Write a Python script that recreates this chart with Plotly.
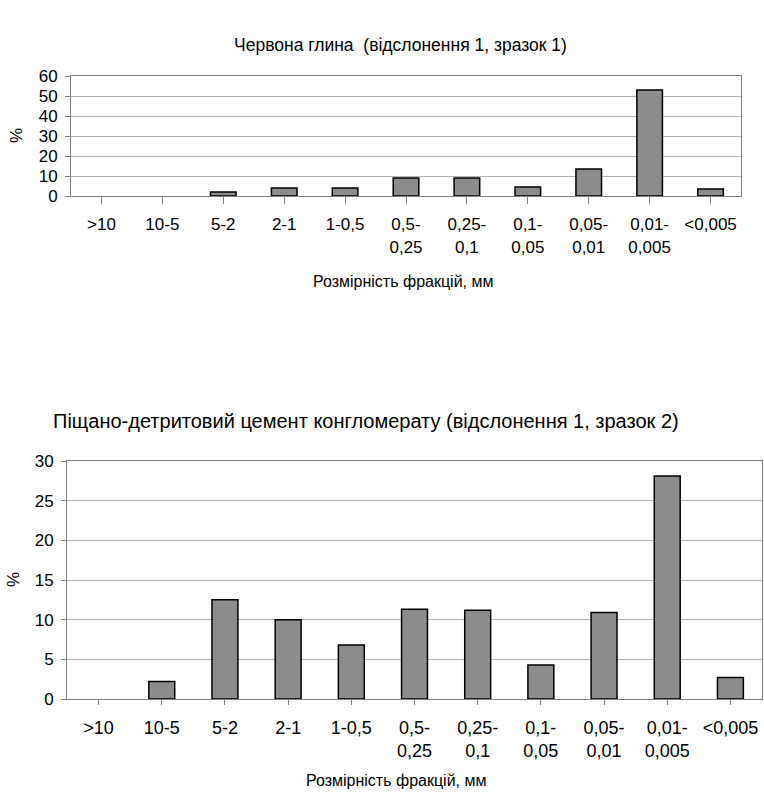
import plotly.graph_objects as go

W, H = 764, 793

categories = [">10", "10-5", "5-2", "2-1", "1-0,5", "0,5-<br>0,25", "0,25-<br>0,1",
              "0,1-<br>0,05", "0,05-<br>0,01", "0,01-<br>0,005", "<0,005"]
sample1 = [0, 0, 2, 4, 4, 9, 9, 4.5, 13.5, 53, 3.5]
sample2 = [0, 2.2, 12.5, 10, 6.8, 11.3, 11.2, 4.3, 10.9, 28.1, 2.7]

title1 = "Червона глина  (відслонення 1, зразок 1)"
title2 = "Піщано-детритовий цемент конгломерату (відслонення 1, зразок 2)"
xtitle = "Розмірність фракцій, мм"
ytitle = "%"

FONT = "Liberation Sans, Arial, sans-serif"
BAR = "#8c8c8c"
AX = "#808080"
GRID = "#b4b4b4"

def px(x):
    return x / W

def py(y):
    return 1 - y / H

idx = list(range(len(categories)))

def outline(vals):
    return [1.5 if v > 0 else 0 for v in vals]

fig = go.Figure()
fig.add_trace(go.Bar(x=idx, y=sample1, width=0.42,
                     marker=dict(color=BAR, line=dict(color="black", width=outline(sample1))),
                     xaxis="x", yaxis="y", showlegend=False))
fig.add_trace(go.Bar(x=idx, y=sample2, width=0.41,
                     marker=dict(color=BAR, line=dict(color="black", width=outline(sample2))),
                     xaxis="x2", yaxis="y2", showlegend=False))

xcommon = dict(tickmode="array", tickvals=idx, ticktext=categories, range=[-0.5, 10.5],
               showline=True, linecolor=AX, linewidth=1, mirror=True, ticks="outside",
               tickcolor=AX, showgrid=False, zeroline=False, fixedrange=True, automargin=False)
ycommon = dict(showline=True, linecolor=AX, linewidth=1, mirror=True, ticks="outside",
               ticklen=5, tickcolor=AX, showgrid=True, gridcolor=GRID, gridwidth=1,
               zeroline=False, tickfont=dict(family=FONT, size=17, color="black"),
               ticklabelstandoff=4, fixedrange=True, automargin=False)

fig.update_layout(
    width=W, height=H, margin=dict(l=0, r=0, t=0, b=0, autoexpand=False),
    paper_bgcolor="white", plot_bgcolor="white",
    xaxis=dict(xcommon, domain=[px(71), px(741)], anchor="y", ticklen=7, ticklabelstandoff=6,
               tickfont=dict(family=FONT, size=17, color="black")),
    yaxis=dict(ycommon, domain=[py(196), py(76)], anchor="x", range=[0, 60], dtick=10),
    xaxis2=dict(xcommon, domain=[px(67), px(762)], anchor="y2", ticklen=5, ticklabelstandoff=7,
                tickfont=dict(family=FONT, size=18, color="black")),
    yaxis2=dict(ycommon, domain=[py(699), py(461)], anchor="x2", range=[0, 30], dtick=5),
)

def ann(text, x, y, size=16, angle=0):
    fig.add_annotation(text=text, x=px(x), y=py(y), xref="paper", yref="paper",
                       showarrow=False, textangle=angle, xanchor="center", yanchor="middle",
                       font=dict(family=FONT, size=size, color="black"))

ann(title1, 400, 45, size=17.5)
ann(xtitle, 403, 281, size=16)
ann(ytitle, 17, 136, size=17, angle=-90)
ann(title2, 366, 421, size=20)
ann(xtitle, 396, 780, size=16)
ann(ytitle, 13, 580, size=17, angle=-90)

fig.write_html("out.html")
